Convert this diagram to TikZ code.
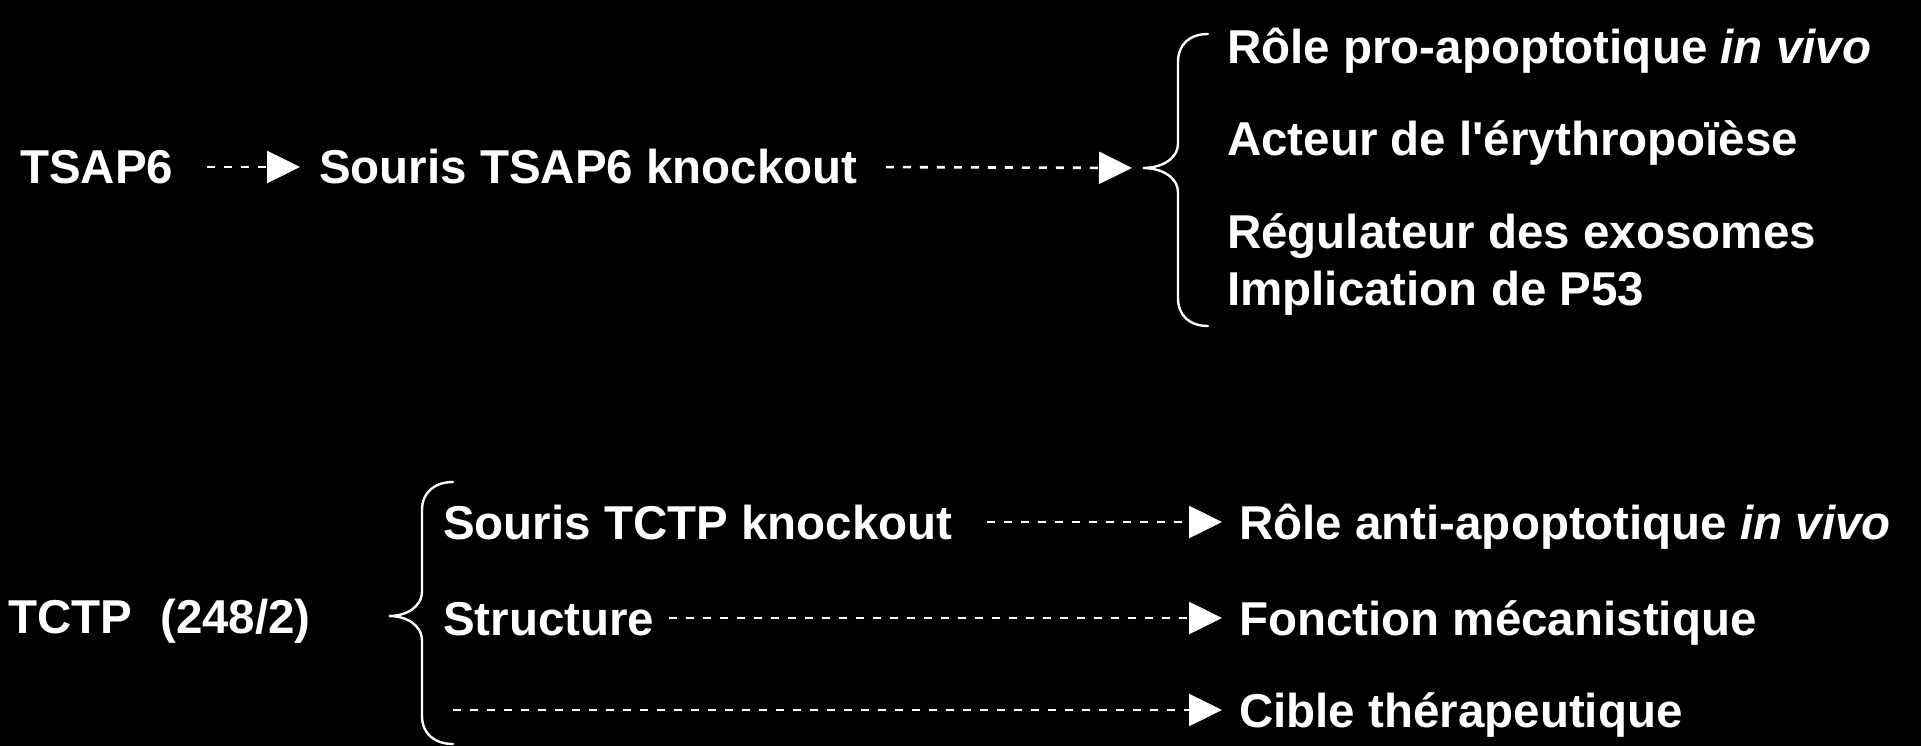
\documentclass[tikz,border=0pt]{standalone}
\usepackage{fontspec}
\setmainfont{Liberation Sans}[Ligatures=TeXOff]
\usetikzlibrary{arrows.meta,positioning}

\begin{document}
\begin{tikzpicture}[x=1pt, y=-1pt,
    txt/.style={text=white, font=\fontsize{47.5}{57}\selectfont\bfseries,
        inner sep=0pt, text height=34pt, text depth=0pt, anchor=base west},
    flow/.style={white, line width=2.6pt, dash pattern=on 8pt off 9pt,
        -{Triangle[length=33pt, width=32pt]}},
    brace/.style={white, line width=2.4pt, line cap=round}]
    % Background
    \useasboundingbox (0,0) rectangle (1921,746);
    \fill[black] (0,0) rectangle (1921,746);

    % TSAP6 branch
    \node[txt] (tsap) at (20,184) {TSAP6};
    \node[txt] (souris) at (319,184) {Souris TSAP6 knockout};
    \node[txt] (role) at (1227,64) {Rôle pro-apoptotique \textit{in vivo}};
    \node[txt] (acteur) at (1227,156) {Acteur de l'érythropoïèse};
    \node[txt] (regul) at (1227,248) {Régulateur des exosomes};
    \node[txt] (impl) at (1227,305) {Implication de P53};
    \coordinate (tipA) at (1143,168);

    \draw[flow, shorten <=33pt, shorten >=19pt] (tsap.east) -- (souris.west);
    \draw[flow, shorten <=28pt, shorten >=11pt] (souris.east) -- (tipA);

    \draw[brace] (1208,34) .. controls (1190,34) and (1178,44) .. (1178,62)
        -- (1178,143) .. controls (1178,160) and (1160,168) .. (tipA)
        .. controls (1160,168) and (1178,176) .. (1178,193)
        -- (1178,298) .. controls (1178,316) and (1190,326) .. (1208,326);

    % TCTP branch
    \node[txt] (tctp) at (8,633) {TCTP\hspace{28pt}(248/2)};
    \node[txt] (sourisb) at (443,539) {Souris TCTP knockout};
    \node[txt] (struct) at (443,635) {Structure};
    \node[txt] (roleb) at (1239,539) {Rôle anti-apoptotique \textit{in vivo}};
    \node[txt] (fonct) at (1239,635) {Fonction mécanistique};
    \node[txt] (cible) at (1239,727) {Cible thérapeutique};
    \coordinate (tipB) at (389,616);
    \coordinate (endC) at (453,710);

    \draw[flow, shorten <=34pt, shorten >=17pt] (sourisb.east) -- (roleb.west);
    \draw[flow, shorten <=14pt, shorten >=17pt] (struct.east) -- (fonct.west);
    \draw[flow, shorten >=17pt] (endC) -- (cible.west);

    \draw[brace] (453,482) .. controls (435,482) and (422,492) .. (422,510)
        -- (422,591) .. controls (422,608) and (405,616) .. (tipB)
        .. controls (405,616) and (422,624) .. (422,641)
        -- (422,716) .. controls (422,734) and (435,744) .. (453,744);
\end{tikzpicture}
\end{document}
